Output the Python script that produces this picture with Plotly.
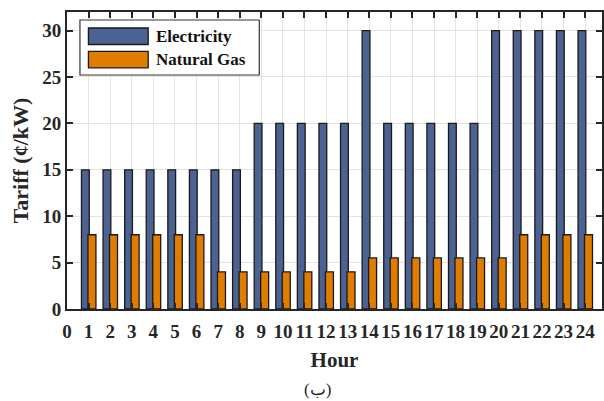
import plotly.graph_objects as go

hours = list(range(1, 25))
electricity = [15, 15, 15, 15, 15, 15, 15, 15, 20, 20, 20, 20, 20, 30, 20, 20, 20, 20, 20, 30, 30, 30, 30, 30]
natural_gas = [8, 8, 8, 8, 8, 8, 4, 4, 4, 4, 4, 4, 4, 5.5, 5.5, 5.5, 5.5, 5.5, 5.5, 5.5, 8, 8, 8, 8]
x_ticks = list(range(0, 25))
y_ticks = [0, 5, 10, 15, 20, 25, 30]

BLUE = "#4C6391"
ORANGE = "#E07C00"
EDGE = "#1a1a1a"
FONT = "Liberation Serif, Times New Roman, serif"

fig = go.Figure()
fig.add_trace(go.Bar(x=hours, y=electricity, name="Electricity", width=0.36, offset=-0.33,
                     marker=dict(color=BLUE, line=dict(color=EDGE, width=1.3)), showlegend=False))
fig.add_trace(go.Bar(x=hours, y=natural_gas, name="Natural Gas", width=0.37, offset=-0.03,
                     marker=dict(color=ORANGE, line=dict(color=EDGE, width=1.3)), showlegend=False))

axis_common = dict(showline=True, linecolor="#262626", linewidth=2, ticks="inside", ticklen=6,
                   tickwidth=2, tickcolor="#262626", mirror="ticks", showgrid=True,
                   gridcolor="#e3e3e3", gridwidth=1, zeroline=False,
                   tickfont=dict(family=FONT, size=19, color="#262626"))

fig.update_layout(
    width=604, height=401,
    margin=dict(l=67, r=0, t=12, b=92),
    paper_bgcolor="white", plot_bgcolor="white",
    barmode="overlay",
    xaxis=dict(range=[0, 24.78], tickmode="array", tickvals=x_ticks,
               ticktext=[f"<b>{v}</b>" for v in x_ticks], ticklabelstandoff=4,
               title=dict(text="<b>Hour</b>", font=dict(family=FONT, size=21, color="#262626"), standoff=12),
               **axis_common),
    yaxis=dict(range=[0, 32], tickmode="array", tickvals=y_ticks,
               ticktext=[f"<b>{v}</b>" for v in y_ticks],
               title=dict(text="<b>Tariff (¢/kW)</b>", font=dict(family=FONT, size=22, color="#262626"), standoff=8),
               **axis_common),
    font=dict(family=FONT),
)

# legend box drawn manually to match the large swatches
fig.add_shape(type="rect", xref="paper", yref="paper",
              x0=(80 - 67) / 537, x1=(260 - 67) / 537, y0=(309 - 75) / 297, y1=(309 - 20) / 297,
              line=dict(color="#333333", width=1.2), fillcolor="white", layer="above")
for i, (name, col) in enumerate([("Electricity", BLUE), ("Natural Gas", ORANGE)]):
    top = 28 + i * 23.3
    fig.add_shape(type="rect", xref="paper", yref="paper",
                  x0=(88.5 - 67) / 537, x1=(148.5 - 67) / 537,
                  y0=(309 - (top + 16.5)) / 297, y1=(309 - top) / 297,
                  line=dict(color=EDGE, width=1.3), fillcolor=col, layer="above")
    fig.add_annotation(xref="paper", yref="paper", x=(154 - 67) / 537, y=(309 - (top + 8.5)) / 297,
                       text=f"<b>{name}</b>", showarrow=False, xanchor="left", yanchor="middle",
                       font=dict(family=FONT, size=17, color="#111111"))

fig.add_annotation(xref="paper", yref="paper", x=(318 - 67) / 537, y=(309 - 389) / 297,
                   text="(ب)", showarrow=False, xanchor="center", yanchor="middle",
                   font=dict(family=FONT, size=17, color="#262626"))

fig.write_html("out.html")
